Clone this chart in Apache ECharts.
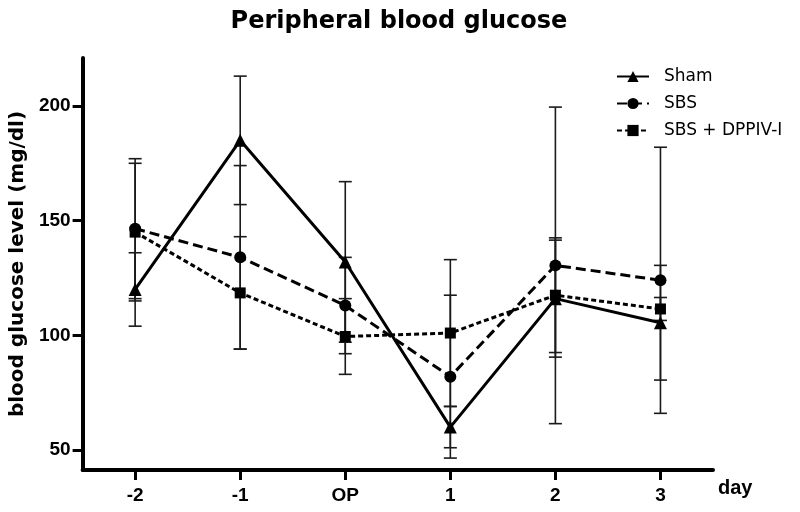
<!DOCTYPE html>
<html>
<head>
<meta charset="utf-8">
<script src="https://cdn.jsdelivr.net/npm/echarts@6/dist/echarts.min.js"></script>
<style>html,body{margin:0;padding:0;background:#fff}#c{width:800px;height:512px}</style>
</head>
<body>
<div id="c"></div>
<script>
const categories = ['-2', '-1', 'OP', '1', '2', '3'];
const yTicks = [50, 100, 150, 200];
const shamMean = [120, 185, 132, 60, 116, 105.5];
const shamErr  = [16, 28, 35, 9, 25.5, 25];
const sbsMean  = [146.5, 134, 113, 82, 130.5, 124];
const sbsErr   = [30.5, 40, 21, 35.5, 69, 58];
const dppMean  = [145, 118.5, 99.5, 101, 117.5, 111.5];
const dppErr   = [30, 24.5, 16.5, 32, 25, 5];

const chart = echarts.init(document.getElementById('c'), null, {renderer: 'canvas'});

function errData(m, e) { return m.map((v, i) => [i, v, e[i]]); }
function errSeries(m, e) {
  return {
    type: 'custom',
    data: errData(m, e),
    encode: {x: 0, y: 1},
    z: 1,
    silent: true,
    renderItem: function (params, api) {
      const i = api.value(0), v = api.value(1), er = api.value(2);
      const hi = api.coord([i, v + er]);
      const lo = api.coord([i, v - er]);
      const hw = 6.5;
      const st = {stroke: '#1a1a1a', lineWidth: 1.6};
      return {
        type: 'group',
        children: [
          {type: 'line', shape: {x1: hi[0], y1: hi[1], x2: lo[0], y2: lo[1]}, style: st},
          {type: 'line', shape: {x1: hi[0] - hw, y1: hi[1], x2: hi[0] + hw, y2: hi[1]}, style: st},
          {type: 'line', shape: {x1: lo[0] - hw, y1: lo[1], x2: lo[0] + hw, y2: lo[1]}, style: st}
        ]
      };
    }
  };
}

const tickFont = "'Liberation Sans', Arial, sans-serif";

chart.setOption({
  animation: false,
  backgroundColor: '#fff',
  title: {
    text: 'Peripheral blood glucose',
    left: 394,
    textAlign: 'center',
    top: 5,
    textStyle: {fontFamily: "'DejaVu Sans', sans-serif", fontWeight: 'bold', fontSize: 24, color: '#000'}
  },
  legend: {
    orient: 'vertical',
    left: 611,
    top: 63,
    itemWidth: 32,
    itemHeight: 14,
    itemGap: 10,
    data: ['Sham', 'SBS', 'SBS + DPPIV-I'],
    textStyle: {fontFamily: "'DejaVu Sans', sans-serif", fontSize: 17, color: '#000', padding: [0, 0, 0, 10]}
  },
  grid: {left: 79, right: 87, top: 58, bottom: 42, containLabel: false},
  xAxis: {
    type: 'category',
    data: categories,
    boundaryGap: true,
    name: 'day',
    nameLocation: 'end',
    nameGap: 5,
    nameTextStyle: {fontFamily: tickFont, fontWeight: 'bold', fontSize: 20, color: '#000', verticalAlign: 'top', padding: [8, 0, 0, 0]},
    axisLine: {lineStyle: {color: '#000', width: 4}},
    axisTick: {show: true, alignWithLabel: true, inside: false, length: 10, lineStyle: {color: '#000', width: 3}},
    axisLabel: {margin: 16, fontFamily: tickFont, fontWeight: 'bold', fontSize: 19, color: '#000'},
    splitLine: {show: false}
  },
  yAxis: {
    type: 'value',
    min: 41.3,
    max: 220.9,
    name: 'blood glucose level (mg/dl)',
    nameLocation: 'middle',
    nameGap: 50,
    nameTextStyle: {fontFamily: "'DejaVu Sans', sans-serif", fontWeight: 'bold', fontSize: 20, color: '#000'},
    axisLine: {show: true, lineStyle: {color: '#000', width: 4}},
    axisTick: {show: true, length: 10, customValues: yTicks, lineStyle: {color: '#000', width: 3}},
    axisLabel: {margin: 12, customValues: yTicks, fontFamily: tickFont, fontWeight: 'bold', fontSize: 19, color: '#000'},
    splitLine: {show: false}
  },
  series: [
    errSeries(shamMean, shamErr),
    errSeries(sbsMean, sbsErr),
    errSeries(dppMean, dppErr),
    {
      name: 'Sham', type: 'line', data: shamMean, z: 3,
      symbol: 'triangle', symbolSize: 13,
      lineStyle: {color: '#000', width: 3, type: 'solid'},
      itemStyle: {color: '#000'}
    },
    {
      name: 'SBS', type: 'line', data: sbsMean, z: 3,
      symbol: 'circle', symbolSize: 12,
      lineStyle: {color: '#000', width: 3, type: [10, 5]},
      itemStyle: {color: '#000'}
    },
    {
      name: 'SBS + DPPIV-I', type: 'line', data: dppMean, z: 3,
      symbol: 'rect', symbolSize: 11,
      lineStyle: {color: '#000', width: 3, type: [5, 3]},
      itemStyle: {color: '#000'}
    }
  ]
});
</script>
</body>
</html>
